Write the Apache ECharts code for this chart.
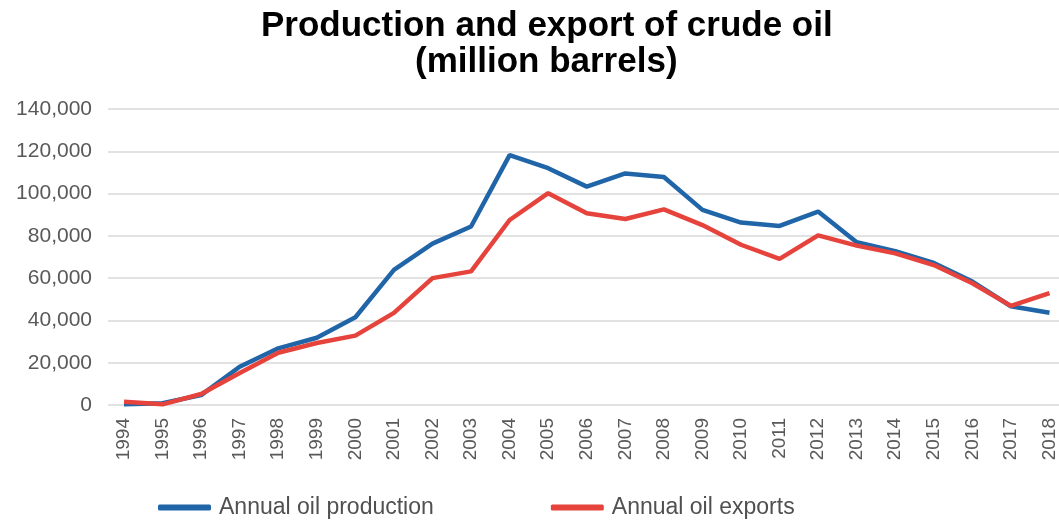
<!DOCTYPE html>
<html>
<head>
<meta charset="utf-8">
<script src="https://cdn.jsdelivr.net/npm/echarts@6/dist/echarts.min.js"></script>
<style>
  html, body { margin: 0; padding: 0; background: #fff; }
  #chart { width: 1059px; height: 525px; }
</style>
</head>
<body>
<div id="chart"></div>
<script>
// Years on the category axis
const years = ['1994','1995','1996','1997','1998','1999','2000','2001','2002','2003','2004','2005',
  '2006','2007','2008','2009','2010','2011','2012','2013','2014','2015','2016','2017','2018'];

// Annual crude oil production (million barrels)
const production = [300, 800, 4700, 18100, 26800, 31800, 41500, 63900, 76300, 84400, 118200, 112000,
  103300, 109500, 107800, 92300, 86300, 84700, 91500, 77000, 72800, 67200, 58400, 46700, 43600];

// Annual crude oil exports (million barrels)
const exportsData = [1500, 300, 5200, 15100, 24700, 29300, 32800, 43600, 60000, 63200, 87500, 100200,
  90700, 88000, 92500, 85100, 75800, 69100, 80200, 75400, 71700, 66200, 57600, 46900, 52900];

// Value axis ticks
const yMin = 0, yMax = 140000, yStep = 20000;

const FONT = '"Liberation Sans", Arial, sans-serif';
const gridTop = 109, gridBottom = 120;
const titleStyle = { fontFamily: FONT, fontSize: 35, fontWeight: 'bold', color: '#000', lineHeight: 35.5 };

const chart = echarts.init(document.getElementById('chart'));
chart.setOption({
  animation: false,
  backgroundColor: '#ffffff',
  title: [
    { text: 'Production and export of crude oil', left: 261, top: 9, padding: 0, textStyle: titleStyle },
    { text: '(million barrels)', left: 415, top: 44.5, padding: 0, textStyle: titleStyle }
  ],
  legend: {
    left: 153,
    top: 491,
    itemWidth: 53,
    itemHeight: 6,
    itemGap: 117,
    icon: 'roundRect',
    textStyle: { fontFamily: FONT, fontSize: 23, color: '#505050', padding: [2, 0, 0, 3] },
    data: ['Annual oil production', 'Annual oil exports']
  },
  grid: [
    // background grid carrying the value labels and gridlines
    { left: 108, right: 0, top: gridTop, bottom: gridBottom, containLabel: false },
    // plotting grid for the two lines
    { left: 124, right: 9, top: gridTop, bottom: gridBottom, containLabel: false }
  ],
  xAxis: [
    { gridIndex: 0, type: 'value', show: false, min: 0, max: 1 },
    {
      gridIndex: 1,
      type: 'category',
      data: years,
      boundaryGap: false,
      axisLine: { show: false },
      axisTick: { show: false },
      axisLabel: {
        rotate: 90, margin: 13, interval: 0,
        fontFamily: FONT, fontSize: 19, color: '#595959'
      }
    }
  ],
  yAxis: [
    {
      gridIndex: 0,
      type: 'value',
      min: yMin, max: yMax, interval: yStep,
      axisLine: { show: false },
      axisTick: { show: false },
      splitLine: { lineStyle: { color: '#d9d9d9', width: 1.5 } },
      axisLabel: {
        margin: 16,
        fontFamily: FONT, fontSize: 21, color: '#595959',
        formatter: v => v.toLocaleString('en-US')
      }
    },
    {
      gridIndex: 1,
      type: 'value',
      min: yMin, max: yMax, interval: yStep,
      show: false
    }
  ],
  series: [
    {
      name: 'Annual oil production',
      type: 'line',
      xAxisIndex: 1, yAxisIndex: 1,
      data: production,
      symbol: 'none',
      color: '#1f65a8',
      lineStyle: { width: 4.5, color: '#1f65a8' },
      z: 2
    },
    {
      name: 'Annual oil exports',
      type: 'line',
      xAxisIndex: 1, yAxisIndex: 1,
      data: exportsData,
      symbol: 'none',
      color: '#e5433b',
      lineStyle: { width: 4.5, color: '#e5433b' },
      z: 3
    }
  ]
});
</script>
</body>
</html>
